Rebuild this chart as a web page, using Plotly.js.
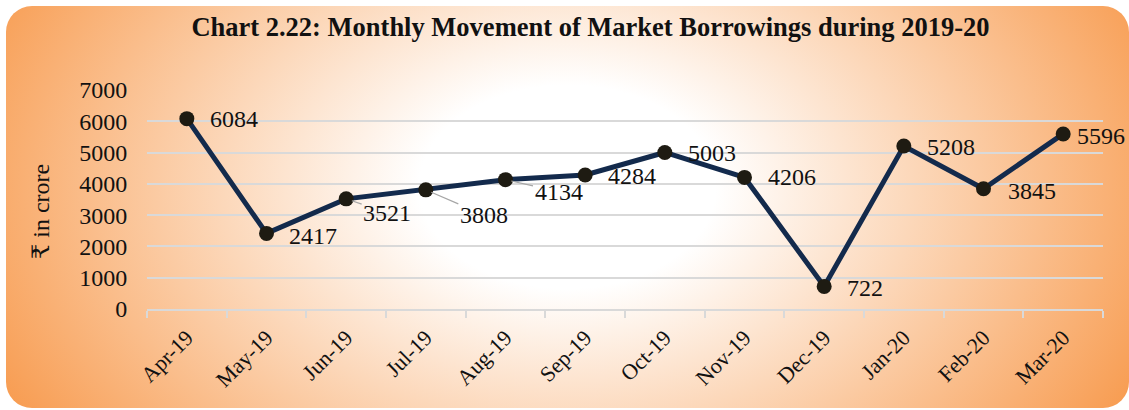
<!DOCTYPE html>
<html>
<head>
<meta charset="utf-8">
<script src="https://cdn.plot.ly/plotly-3.0.1.min.js"></script>
<style>
  html, body { margin: 0; padding: 0; background: #ffffff; }
  #wrap { position: relative; width: 1129px; height: 410px; overflow: hidden; }
  #bg {
    position: absolute; left: 6px; top: 6px; width: 1123px; height: 402px;
    border-radius: 26px;
    background: radial-gradient(ellipse 60% 115% at 50% 45%, #ffffff 0%, #ffffff 22%, #F79646 100%);
  }
  #chart { position: absolute; left: 0; top: 0; width: 1129px; height: 410px; }
</style>
</head>
<body>
<div id="wrap">
  <div id="bg"></div>
  <div id="chart"></div>
</div>
<script>
// ---- data ----
const months = ["Apr-19","May-19","Jun-19","Jul-19","Aug-19","Sep-19","Oct-19","Nov-19","Dec-19","Jan-20","Feb-20","Mar-20"];
const borrowings = [6084, 2417, 3521, 3808, 4134, 4284, 5003, 4206, 722, 5208, 3845, 5596];
const yTicks = [0, 1000, 2000, 3000, 4000, 5000, 6000, 7000];
const yTitle = '₹ in crore';
const chartTitle = 'Chart 2.22: Monthly Movement of Market Borrowings during 2019-20';

// ---- label placement (pixel offsets from the marker; style only) ----
// [dx, dy(screen down), leader]
const labelOffsets = [
  [21, 0, false], [20, 3, false], [41, 14, true], [58, 25, true],
  [53, 12, true], [21, 1, false], [21, 1, false], [21, 0, false],
  [21, 2, false], [21, 1, false], [22, 2, false], [12, 2, false]
];

const serif = '"Liberation Serif", "Times New Roman", "DejaVu Serif", serif';

const annotations = months.map((m, i) => {
  const [dx, dy, leader] = labelOffsets[i];
  const base = {
    x: m, y: borrowings[i], xref: 'x', yref: 'y',
    text: String(borrowings[i]),
    font: { family: serif, size: 24, color: '#111111' }
  };
  if (leader) {
    return Object.assign(base, {
      showarrow: true, arrowhead: 0, arrowwidth: 1.2, arrowcolor: '#A6A6A6',
      ax: dx, ay: dy, axref: 'pixel', ayref: 'pixel', standoff: 6,
      xanchor: 'center', yanchor: 'middle'
    });
  }
  return Object.assign(base, {
    showarrow: false, xanchor: 'left', yanchor: 'middle',
    xshift: dx, yshift: -dy
  });
});

// y-axis title placed as a rotated annotation (slightly below centre, as in the original)
annotations.push({
  xref: 'paper', yref: 'paper', x: -0.111, y: 0.447,
  xanchor: 'center', yanchor: 'middle', showarrow: false, textangle: -90,
  text: yTitle, font: { family: serif, size: 24, color: '#111111' }
});

const trace = {
  type: 'scatter', mode: 'lines+markers',
  x: months, y: borrowings,
  line: { color: '#132A4C', width: 5 },
  marker: { color: '#1E1B12', size: 15, line: { width: 0 } },
  hoverinfo: 'x+y'
};

const layout = {
  width: 1129, height: 410,
  paper_bgcolor: 'rgba(0,0,0,0)', plot_bgcolor: 'rgba(0,0,0,0)',
  margin: { l: 147, r: 26, t: 90, b: 101, pad: 0 },
  showlegend: false,
  font: { family: serif, color: '#111111' },
  title: {
    text: '<b>' + chartTitle + '</b>',
    font: { family: serif, size: 26.5, color: '#111111' },
    x: 0.523, xanchor: 'center', y: 0.935, yanchor: 'middle'
  },
  xaxis: {
    type: 'category', range: [-0.5, 11.5],
    showgrid: false, zeroline: false,
    showline: true, linecolor: '#D9D9D9', linewidth: 2,
    ticks: 'outside', tickson: 'boundaries', ticklen: 7, tickcolor: '#D9D9D9', tickwidth: 2,
    ticklabelstandoff: 5,
    tickangle: -45, tickfont: { family: serif, size: 22, color: '#111111' }
  },
  yaxis: {
    range: [0, 7000], tickvals: yTicks, ticktext: yTicks.map(String),
    showgrid: true, gridcolor: '#D9D9D9', gridwidth: 2,
    zeroline: false, showline: false,
    ticks: 'outside', ticklen: 14, tickcolor: 'rgba(0,0,0,0)',
    tickfont: { family: serif, size: 24, color: '#111111' }
  },
  annotations: annotations
};

Plotly.newPlot('chart', [trace], layout, { displayModeBar: false, staticPlot: true });
</script>
</body>
</html>
